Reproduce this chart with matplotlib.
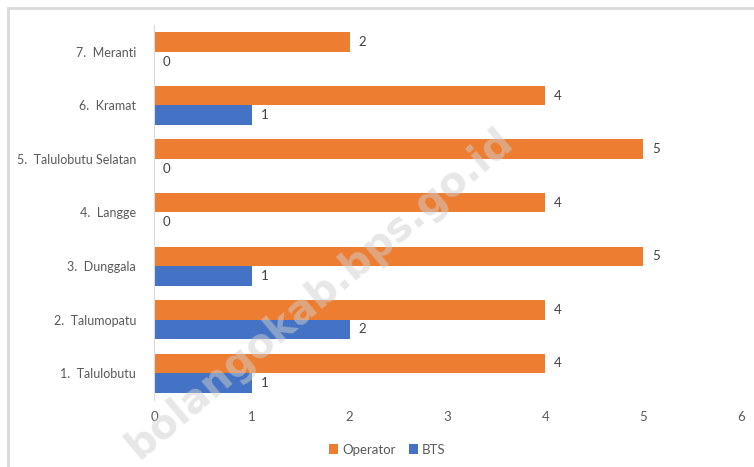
import numpy as np
import matplotlib
matplotlib.use("Agg")
import matplotlib.pyplot as plt
from matplotlib.patches import Rectangle

categories = ["1.  Talulobutu", "2.  Talumopatu", "3.  Dunggala", "4.  Langge",
              "5.  Talulobutu Selatan", "6.  Kramat", "7.  Meranti"]
operator = [4, 4, 5, 4, 5, 4, 2]
bts = [1, 2, 1, 0, 0, 1, 0]

ORANGE = "#ED7D31"
BLUE = "#4472C4"
TXT = "#595959"

plt.rcParams["font.family"] = ["Lato", "DejaVu Sans"]

fig = plt.figure(figsize=(7.54, 4.67), dpi=100)
ax = fig.add_axes([0.2042, 0.1435, 0.7786, 0.803])

y = np.arange(len(categories))
h = 0.365
b1 = ax.barh(y + h / 2, operator, height=h, color=ORANGE, label="Operator")
b2 = ax.barh(y - h / 2, bts, height=h, color=BLUE, label="BTS")
for bars, vals in ((b1, operator), (b2, bts)):
    for bar, v in zip(bars, vals):
        ax.text(v + 0.09, bar.get_y() + bar.get_height() / 2, str(v),
                va="center", ha="left", fontsize=9.5, color="#404040")

ax.set_xlim(0, 6)
ax.set_ylim(-0.5, len(categories) - 0.5)
ax.set_yticks(y)
ax.set_yticklabels(categories, fontsize=9, color=TXT)
ax.set_xticks(range(7))
ax.tick_params(axis="x", labelsize=9.5, colors=TXT, length=0, pad=8)
ax.tick_params(axis="y", length=0, pad=13)
for s in ("top", "right", "bottom"):
    ax.spines[s].set_visible(False)
ax.spines["left"].set_color("#d9d9d9")

ax.legend(loc="upper center", bbox_to_anchor=(0.397, -0.085), ncol=2, frameon=False,
          fontsize=9.5, handlelength=0.7, handleheight=0.7, handletextpad=0.3,
          columnspacing=1.0, labelcolor=TXT)

# chart border
fig.patches.append(Rectangle((8 / 754, -0.1), 1.2, 1 - 8 / 467 + 0.1,
                             transform=fig.transFigure, fill=False,
                             edgecolor="#d9d9d9", lw=2))

# watermark
fig.text(0.425, 0.37, "bolangokab.bps.go.id", rotation=40, fontsize=29,
         fontweight="bold", color="#d0d0d0", alpha=0.5, ha="center", va="center",
         family="DejaVu Sans", zorder=10)

fig.savefig("out.png", dpi=100)
